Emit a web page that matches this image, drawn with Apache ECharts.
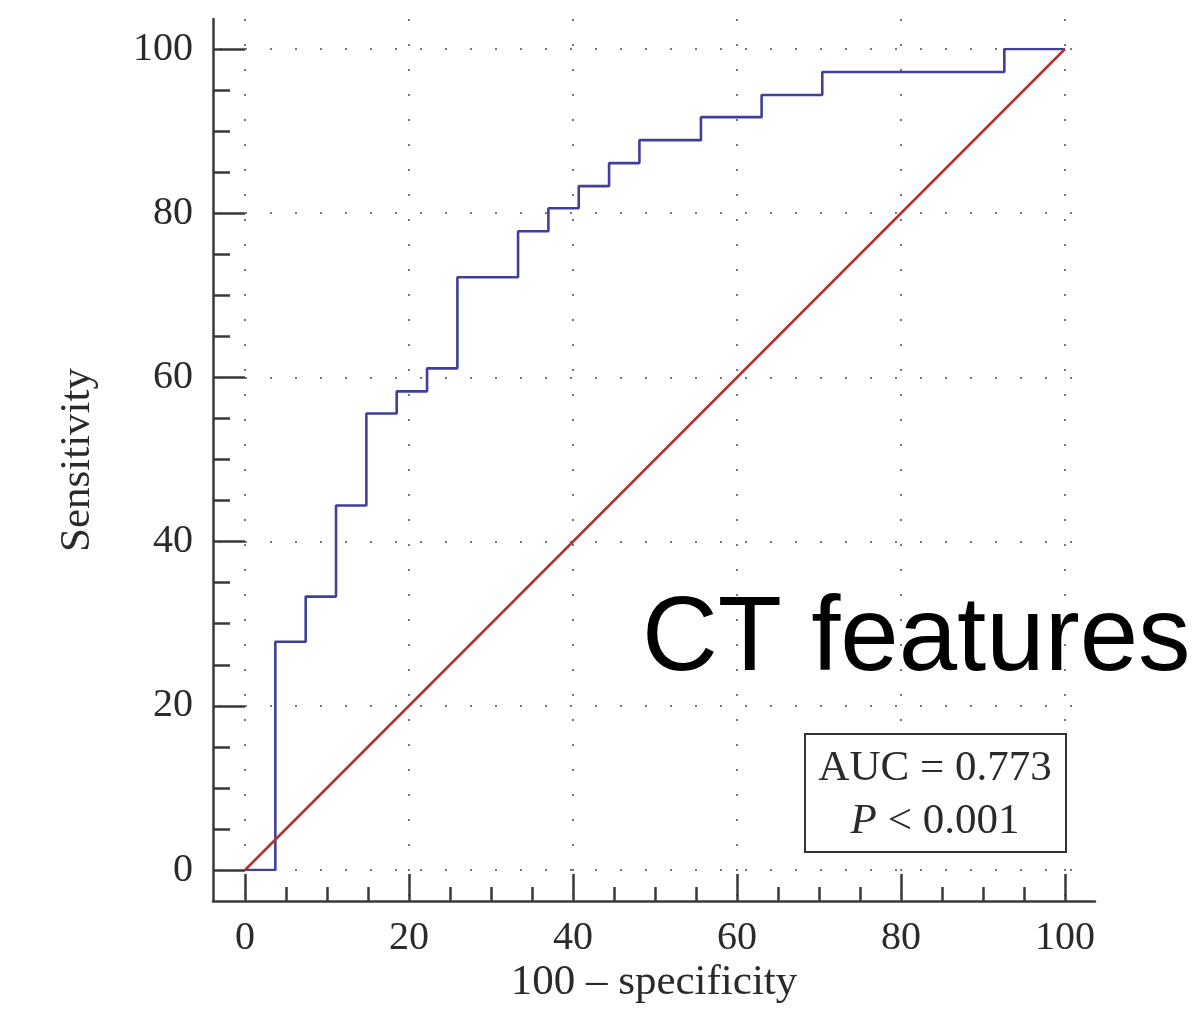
<!DOCTYPE html>
<html>
<head>
<meta charset="utf-8">
<script src="https://cdn.jsdelivr.net/npm/echarts@6/dist/echarts.min.js"></script>
<style>
  html, body { margin: 0; padding: 0; background: #fff; }
  #chart { width: 1199px; height: 1015px; }
</style>
</head>
<body>
<div id="chart"></div>
<script>
// ---- data ----
const fpr = [0, 3.7, 7.4, 11.1, 14.8, 18.5, 22.2, 25.9, 33.3, 37.0, 40.7, 44.4, 48.1, 55.6, 63.0, 70.4, 92.6, 100];
const tpr = [0, 27.8, 33.3, 44.4, 55.6, 58.3, 61.1, 72.2, 77.8, 80.6, 83.3, 86.1, 88.9, 91.7, 94.4, 97.2, 100, 100];
const refX = [0, 100];
const refY = [0, 100];
const xName = '100 \u2013 specificity';
const yName = 'Sensitivity';
const aucLabel = 'AUC = 0.773';
const pLabel = 'P';
const pValue = ' < 0.001';
const panelTitle = 'CT features';

// ---- styles ----
const SERIF = '"Liberation Serif", "DejaVu Serif", serif';
const AXIS_COLOR = '#3a3a3a';
const TXT = '#2a2a2a';
const DOT = { color: '#777', width: 2, type: [2, 23] };
const TICK = { color: AXIS_COLOR, width: 2.5 };

const chart = echarts.init(document.getElementById('chart'), null, { renderer: 'canvas' });

const hidden = { show: false };

const option = {
  backgroundColor: '#fff',
  animation: false,
  grid: [
    // 0: outer frame (axis lines + names)
    { left: 213, top: 19, width: 882, height: 882 },
    // 1: data area 0..100
    { left: 245, top: 49, width: 820, height: 821 },
    // 2: y ticks/labels + horizontal dotted grid lines
    { left: 213, top: 49, width: 882, height: 821 },
    // 3: x ticks/labels + vertical dotted grid lines
    { left: 245, top: 19, width: 820, height: 882 }
  ],
  xAxis: [
    {
      gridIndex: 0, type: 'value', min: 0, max: 1,
      axisLine: { show: true, lineStyle: { color: AXIS_COLOR, width: 2.5 } },
      axisTick: hidden, axisLabel: hidden, splitLine: hidden,
      name: xName, nameLocation: 'middle', nameGap: 60,
      nameTextStyle: { fontFamily: SERIF, fontSize: 43, color: TXT }
    },
    { gridIndex: 1, type: 'value', min: 0, max: 100, show: false },
    { gridIndex: 2, type: 'value', min: 0, max: 100, show: false },
    {
      gridIndex: 3, type: 'value', min: 0, max: 100, interval: 20, position: 'bottom',
      axisLine: { show: false },
      axisTick: { show: true, inside: true, length: 27, lineStyle: TICK },
      minorTick: { show: true, splitNumber: 4, length: 14, lineStyle: TICK },
      axisLabel: { show: true, margin: 17, fontFamily: SERIF, fontSize: 40, color: TXT },
      splitLine: { show: true, lineStyle: DOT }
    }
  ],
  yAxis: [
    {
      gridIndex: 0, type: 'value', min: 0, max: 1,
      axisLine: { show: true, lineStyle: { color: AXIS_COLOR, width: 2.5 } },
      axisTick: hidden, axisLabel: hidden, splitLine: hidden,
      name: yName, nameLocation: 'middle', nameGap: 114,
      nameTextStyle: { fontFamily: SERIF, fontSize: 43, color: TXT }
    },
    { gridIndex: 1, type: 'value', min: 0, max: 100, show: false },
    {
      gridIndex: 2, type: 'value', min: 0, max: 100, interval: 20, position: 'left',
      axisLine: { show: false },
      axisTick: { show: true, inside: true, length: 32, lineStyle: TICK },
      minorTick: { show: true, splitNumber: 4, length: 17, lineStyle: TICK },
      axisLabel: { show: true, margin: 20, fontFamily: SERIF, fontSize: 40, color: TXT },
      splitLine: { show: true, lineStyle: Object.assign({}, DOT, { dashOffset: 18 }) }
    },
    { gridIndex: 3, type: 'value', min: 0, max: 100, show: false }
  ],
  series: [
    {
      name: 'ROC', type: 'line', xAxisIndex: 1, yAxisIndex: 1,
      step: 'end', symbol: 'none', silent: true,
      lineStyle: { color: '#40409c', width: 2.6 },
      data: fpr.map((x, i) => [x, tpr[i]]),
      z: 3
    },
    {
      name: 'Reference', type: 'line', xAxisIndex: 1, yAxisIndex: 1,
      symbol: 'none', silent: true,
      lineStyle: { color: '#b3302e', width: 2.5 },
      data: refX.map((x, i) => [x, refY[i]]),
      z: 4
    }
  ],
  graphic: [
    {
      type: 'rect', left: 804, top: 733, z: 10,
      shape: { width: 261, height: 118 },
      style: { fill: '#fff', stroke: '#333', lineWidth: 2 }
    },
    {
      type: 'text', z: 11, x: 935, y: 795,
      style: {
        text: aucLabel + '\n{i|' + pLabel + '}' + pValue,
        rich: { i: { fontStyle: 'italic', fontFamily: SERIF, fontSize: 43, fill: TXT } },
        fontFamily: SERIF, fontSize: 43, fill: TXT,
        align: 'center', verticalAlign: 'middle', lineHeight: 53
      }
    },
    {
      type: 'text', z: 12, x: 642, y: 641,
      style: {
        text: panelTitle,
        fontFamily: '"Liberation Sans", Arial, sans-serif', fontSize: 105, fill: '#000',
        align: 'left', verticalAlign: 'middle'
      }
    }
  ]
};

chart.setOption(option);
</script>
</body>
</html>
